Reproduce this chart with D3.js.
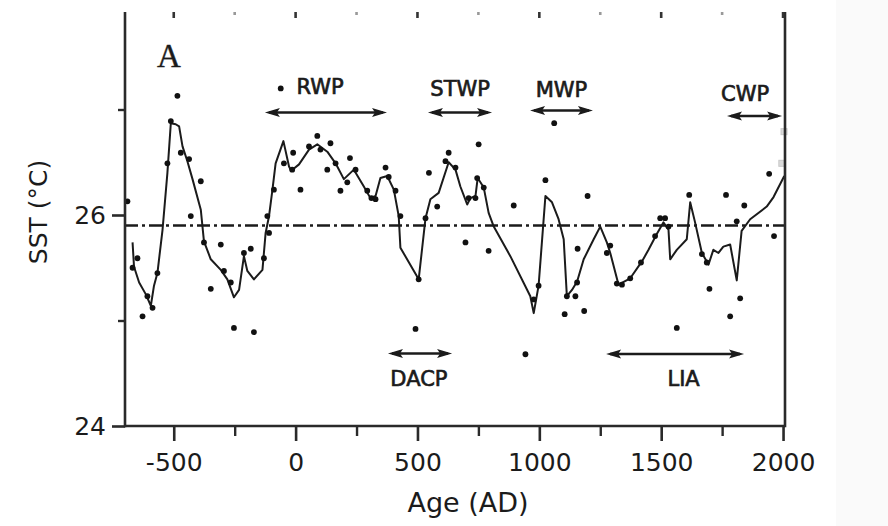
<!DOCTYPE html>
<html><head><meta charset="utf-8">
<script src="https://cdn.jsdelivr.net/npm/d3@7"></script>
<style>body{margin:0;background:#fff}svg{display:block}</style>
</head><body><svg id="c" width="888" height="526"></svg>
<script>
// ---------- data ----------
const curveYears = [-669,-663,-642,-615,-594,-581,-567,-546,-526,-512,-492,-478,-464,-444,-423,-389,-376,-348,-307,-280,-253,-232,-212,-198,-171,-136,-123,-109,-95,-82,-50,-27,-18,14,55,89,130,164,198,239,280,307,328,348,376,403,423,430,505,533,553,587,628,656,676,704,717,738,747,772,792,813,881,963,977,997,1025,1052,1079,1100,1113,1134,1155,1182,1223,1250,1277,1291,1325,1373,1421,1448,1482,1509,1530,1537,1564,1605,1619,1639,1667,1694,1714,1735,1755,1783,1810,1830,1865,1933,1961,2005];
const curveSST = [25.74,25.51,25.36,25.25,25.14,25.33,25.45,25.86,26.40,26.87,26.86,26.84,26.65,26.51,26.34,26.05,25.75,25.58,25.48,25.39,25.22,25.29,25.61,25.47,25.39,25.48,25.83,25.99,26.24,26.49,26.70,26.46,26.42,26.48,26.62,26.67,26.60,26.49,26.34,26.43,26.27,26.16,26.18,26.35,26.37,26.24,25.99,25.69,25.39,25.97,26.15,26.21,26.50,26.43,26.27,26.10,26.16,26.18,26.35,26.26,26.02,25.89,25.61,25.23,25.07,25.33,26.18,26.12,25.96,25.77,25.23,25.29,25.37,25.58,25.77,25.89,25.74,25.64,25.34,25.40,25.56,25.67,25.82,25.93,25.86,25.58,25.67,25.77,26.12,25.93,25.64,25.53,25.67,25.64,25.70,25.72,25.38,25.85,25.96,26.08,26.17,26.37];

const sampleYears = [-690,-669,-649,-628,-608,-587,-567,-526,-512,-485,-471,-437,-430,-389,-376,-348,-307,-294,-266,-253,-212,-184,-171,-130,-116,-109,-89,-61,-48,-14,-10,20,55,89,102,130,143,164,184,212,223,246,294,311,328,369,382,410,430,492,505,533,547,581,615,628,656,697,710,738,745,751,772,792,895,943,977,997,1025,1061,1104,1113,1148,1155,1157,1184,1198,1277,1291,1318,1339,1373,1417,1475,1496,1516,1530,1564,1615,1667,1687,1698,1766,1783,1810,1824,1841,1943,1963];
const sampleSST = [26.13,25.50,25.59,25.04,25.23,25.12,25.45,26.49,26.89,27.13,26.59,26.53,25.99,26.32,25.74,25.30,25.72,25.47,25.36,24.93,25.64,25.68,24.89,25.59,25.99,25.83,26.24,27.20,26.49,26.43,26.59,26.24,26.65,26.75,26.62,26.43,26.68,26.49,26.23,26.31,26.54,26.43,26.23,26.16,26.15,26.45,26.36,26.23,25.99,24.92,25.39,25.97,26.40,26.08,26.51,26.59,26.45,25.74,26.16,26.16,26.35,26.67,26.26,25.66,26.09,24.68,25.20,25.33,26.33,26.87,25.06,25.23,25.23,25.36,25.68,25.09,26.18,25.64,25.71,25.35,25.34,25.40,25.55,25.80,25.97,25.97,25.89,24.93,26.19,25.63,25.55,25.30,26.19,25.04,25.94,25.21,26.09,26.39,25.80];

const modernYears = [1995, 2004];
const modernSST = [26.49, 26.79];

const meanSST = 25.9;

const xMajorTicks = [-500, 0, 500, 1000, 1500, 2000];
const xMinorTicks = [-250, 250, 750, 1250, 1750];
const yMajorTicks = [24, 26];
const yMinorTicks = [25, 27];

const periodNames   = ["RWP", "STWP", "MWP", "CWP", "DACP", "LIA"];
const periodStart   = [-126, 543, 962, 1770, 379, 1274];
const periodEnd     = [375, 806, 1220, 1996, 642, 1840];
const periodLabelAt = [100, 675, 1091, 1844, 506, 1592];

// ---------- layout (pixels / styles) ----------
const arrowY = [112.5, 112.5, 110.5, 116, 353.5, 354];
const labelBaseY = [94, 96, 97, 101, 386, 386];
const ink = "#1b1b1b";
const font = "'DejaVu Sans', sans-serif";

const svg = d3.select("#c");
const x = d3.scaleLinear().domain([-700, 2008]).range([125, 785]);
const y = d3.scaleLinear().domain([24, 28]).range([426, 4]);
const plotTop = 12;

// faint scan margin
svg.append("rect").attr("x", 836).attr("y", 0).attr("width", 52).attr("height", 526).attr("fill", "#fafafa");

// mean line (dash-dot)
svg.append("line")
  .attr("x1", x(-700)).attr("x2", x(2008))
  .attr("y1", y(meanSST)).attr("y2", y(meanSST))
  .attr("stroke", ink).attr("stroke-width", 2.6)
  .attr("stroke-dasharray", "13,4,3,4");

// curve
const pts = curveYears.map((d, i) => [d, curveSST[i]]);
svg.append("path").datum(pts)
  .attr("fill", "none").attr("stroke", ink).attr("stroke-width", 2)
  .attr("stroke-linejoin", "round")
  .attr("d", d3.line().x(d => x(d[0])).y(d => y(d[1])));

// samples
svg.append("g").selectAll("circle")
  .data(sampleYears.map((d, i) => [d, sampleSST[i]]))
  .join("circle")
  .attr("cx", d => x(d[0])).attr("cy", d => y(d[1]))
  .attr("r", 2.9).attr("fill", "#111");

// modern (grey) samples
svg.append("g").selectAll("rect")
  .data(modernYears.map((d, i) => [d, modernSST[i]]))
  .join("rect")
  .attr("x", d => x(d[0]) - 3).attr("y", d => y(d[1]) - 3)
  .attr("width", 6).attr("height", 6)
  .attr("fill", "#dadada").attr("stroke", "#c8c8c8");

// frame lines
const frame = svg.append("g").attr("stroke", "#2a2a2a").attr("stroke-width", 2.6);
frame.append("line").attr("x1", 125).attr("x2", 125).attr("y1", plotTop).attr("y2", y(24) + 1.3);
frame.append("line").attr("x1", 785).attr("x2", 785).attr("y1", plotTop).attr("y2", y(24) + 1.3);
frame.append("line").attr("x1", 125).attr("x2", 785).attr("y1", y(24)).attr("y2", y(24));

// x axis
const xAxisG = svg.append("g").attr("transform", `translate(0,${y(24)})`)
  .call(d3.axisBottom(x).tickValues(xMajorTicks).tickSize(15).tickPadding(12).tickFormat(d3.format("d")));
xAxisG.select(".domain").remove();
xAxisG.selectAll("line").attr("stroke", "#2a2a2a").attr("stroke-width", 2.6);
xAxisG.selectAll("text").attr("font-family", font).attr("font-size", 25).attr("fill", ink)
  .text(d => d < 0 ? "-" + Math.abs(d) : d);
const xMinorG = svg.append("g").attr("transform", `translate(0,${y(24)})`)
  .call(d3.axisBottom(x).tickValues(xMinorTicks).tickSize(10).tickFormat(""));
xMinorG.select(".domain").remove();
xMinorG.selectAll("line").attr("stroke", "#2a2a2a").attr("stroke-width", 2.4);

// top ticks (frame top is cropped in the reference)
svg.append("g").selectAll("line").data(xMajorTicks.concat(xMinorTicks)).join("line")
  .attr("x1", d => x(d)).attr("x2", d => x(d))
  .attr("y1", plotTop).attr("y2", d => plotTop + (xMajorTicks.includes(d) ? 6 : 3))
  .attr("stroke", d => xMajorTicks.includes(d) ? "#333" : "#999").attr("stroke-width", 2.6);

// y axis
const yAxisG = svg.append("g").attr("transform", "translate(125,0)")
  .call(d3.axisLeft(y).tickValues(yMajorTicks).tickSize(13).tickPadding(6).tickFormat(d3.format("d")));
yAxisG.select(".domain").remove();
yAxisG.selectAll("line").attr("stroke", "#2a2a2a").attr("stroke-width", 2.6);
yAxisG.selectAll("text").attr("font-family", font).attr("font-size", 25).attr("fill", ink);
const yMinorG = svg.append("g").attr("transform", "translate(125,0)")
  .call(d3.axisLeft(y).tickValues(yMinorTicks).tickSize(7).tickFormat(""));
yMinorG.select(".domain").remove();
yMinorG.selectAll("line").attr("stroke", "#2a2a2a").attr("stroke-width", 2.4);

// axis titles
svg.append("text").attr("transform", "translate(38,212) rotate(-90)")
  .attr("text-anchor", "middle").attr("dominant-baseline", "central")
  .attr("font-family", font).attr("font-size", 25).attr("fill", ink).text("SST (°C)");
svg.append("text").attr("x", 468).attr("y", 512)
  .attr("text-anchor", "middle")
  .attr("font-family", font).attr("font-size", 27).attr("fill", ink).text("Age (AD)");

// panel letter
svg.append("text").attr("x", 157).attr("y", 67)
  .attr("font-family", "'Liberation Serif', serif").attr("font-size", 33).attr("fill", ink)
  .attr("stroke", ink).attr("stroke-width", 0.4).text("A");

// period arrows
const pg = svg.append("g");
periodNames.forEach((name, i) => {
  const x1 = x(periodStart[i]), x2 = x(periodEnd[i]), yy = arrowY[i];
  const hl = 15, hw = 4.5;
  pg.append("line").attr("x1", x1 + 4).attr("x2", x2 - 4).attr("y1", yy).attr("y2", yy)
    .attr("stroke", ink).attr("stroke-width", 2.6);
  pg.append("path").attr("d", `M${x1},${yy} L${x1 + hl},${yy - hw} L${x1 + hl - 3},${yy} L${x1 + hl},${yy + hw} Z`).attr("fill", ink);
  pg.append("path").attr("d", `M${x2},${yy} L${x2 - hl},${yy - hw} L${x2 - hl + 3},${yy} L${x2 - hl},${yy + hw} Z`).attr("fill", ink);
  pg.append("text").attr("x", x(periodLabelAt[i])).attr("y", labelBaseY[i])
    .attr("text-anchor", "middle").attr("font-family", font).attr("font-size", 21)
    .attr("fill", ink).attr("stroke", ink).attr("stroke-width", 0.7).text(name);
});
</script></body></html>
